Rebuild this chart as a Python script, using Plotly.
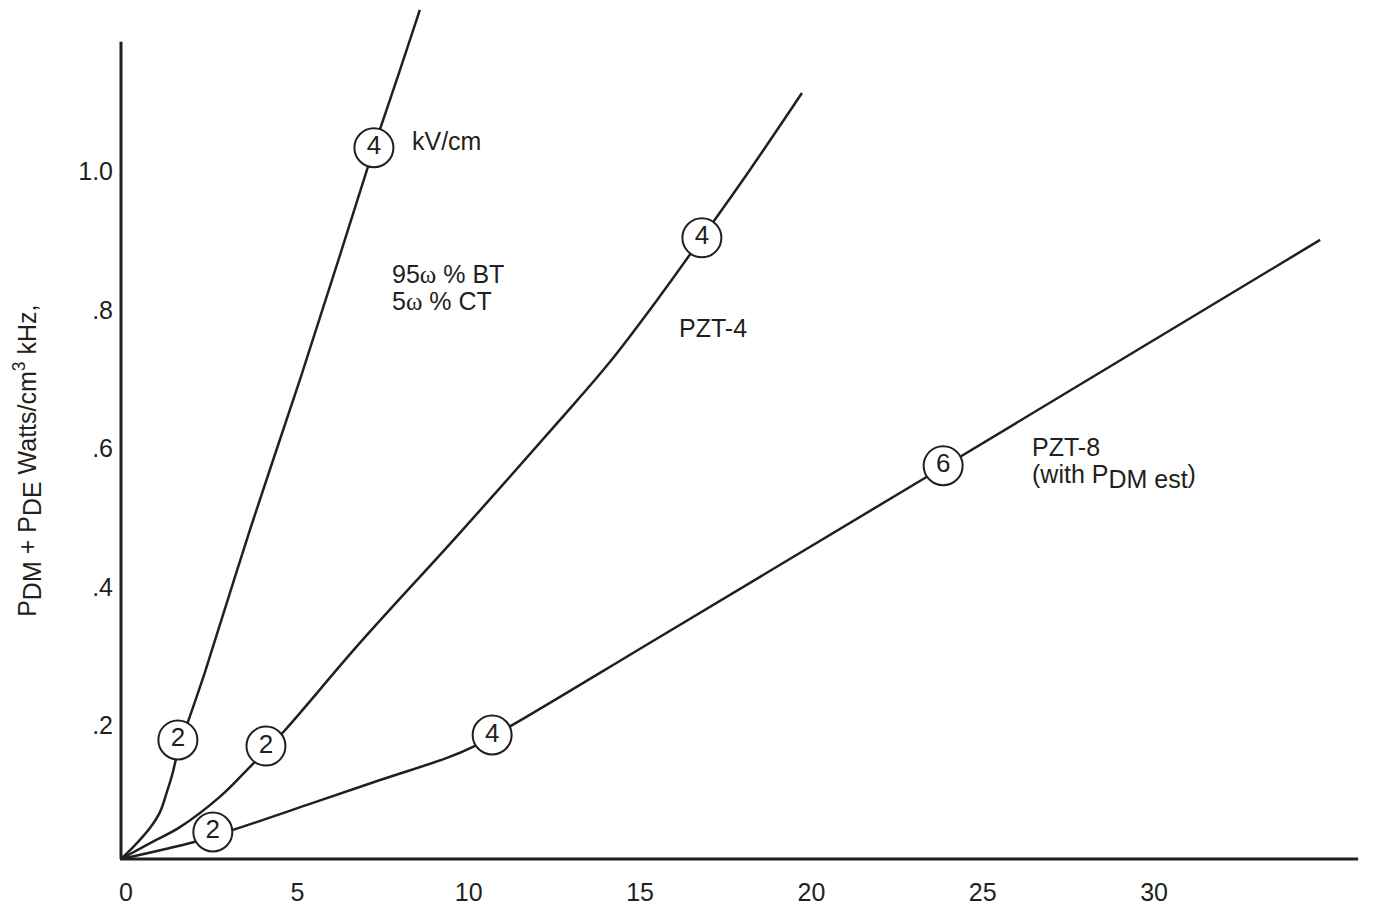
import plotly.graph_objects as go

# Curve traces (x along the horizontal axis, y = P_DM + P_DE in W/cm^3 kHz)
bt_x = [0, 0.41, 0.85, 1.14, 1.34, 1.49, 1.66, 1.87, 2.45, 3.76, 5.22, 6.39, 7.38, 8.14, 8.72]
bt_y = [0, 0.020, 0.045, 0.068, 0.097, 0.121, 0.155, 0.186, 0.270, 0.475, 0.692, 0.872, 1.027, 1.139, 1.226]

pzt4_x = [0, 0.85, 1.72, 2.89, 3.82, 4.73, 6.97, 9.89, 12.81, 14.27, 15.64, 16.95, 18.35, 19.87]
pzt4_y = [0, 0.023, 0.046, 0.090, 0.136, 0.183, 0.312, 0.471, 0.634, 0.718, 0.807, 0.897, 0.995, 1.106]

pzt8_x = [0, 2.16, 3.27, 5.60, 7.56, 9.51, 10.27, 11.44, 15.73, 23.99, 34.99]
pzt8_y = [0, 0.025, 0.042, 0.081, 0.114, 0.146, 0.162, 0.194, 0.321, 0.566, 0.894]

# Circled field-strength markers (kV/cm) along each curve
bt_mark_x = [1.66, 7.38]
bt_mark_y = [0.172, 1.027]
bt_mark_kv = ["2", "4"]

pzt4_mark_x = [4.23, 16.95]
pzt4_mark_y = [0.163, 0.897]
pzt4_mark_kv = ["2", "4"]

pzt8_mark_x = [2.68, 10.83, 23.99]
pzt8_mark_y = [0.039, 0.179, 0.568]
pzt8_mark_kv = ["2", "4", "6"]

# Axis ticks
x_ticks = [0, 5, 10, 15, 20, 25, 30]
y_ticks = [0.2, 0.4, 0.6, 0.8, 1.0]
y_tick_text = [".2", ".4", ".6", ".8", "1.0"]

FONT = "Liberation Sans, Arial, Helvetica, sans-serif"
INK = "#231f20"

fig = go.Figure()

for xs, ys in [(bt_x, bt_y), (pzt4_x, pzt4_y), (pzt8_x, pzt8_y)]:
    fig.add_trace(go.Scatter(
        x=xs, y=ys, mode="lines",
        line=dict(color=INK, width=2.5, shape="spline", smoothing=1.0),
        hoverinfo="skip", showlegend=False,
    ))

for mx, my, mt in [(bt_mark_x, bt_mark_y, bt_mark_kv),
                   (pzt4_mark_x, pzt4_mark_y, pzt4_mark_kv),
                   (pzt8_mark_x, pzt8_mark_y, pzt8_mark_kv)]:
    fig.add_trace(go.Scatter(
        x=mx, y=my, mode="markers+text", text=mt,
        textposition="middle center",
        textfont=dict(family=FONT, size=26, color=INK),
        marker=dict(size=39, color="white", line=dict(color=INK, width=2)),
        cliponaxis=False, hoverinfo="skip", showlegend=False,
    ))

# Axis lines
fig.add_shape(type="line", xref="x", yref="y", x0=0, x1=0, y0=0, y1=1.18,
              line=dict(color=INK, width=3))
fig.add_shape(type="line", xref="x", yref="y", x0=-0.03, x1=36.1, y0=0, y1=0,
              line=dict(color=INK, width=3))

omega = '<span style="font-family:Liberation Serif">ω</span>'


def sub(s):
    return '<sub><span style="font-size:25px">' + s + '</span></sub>'


notes = [
    ("kV/cm", 8.43, 1.037),
    ("95" + omega + " % BT", 7.85, 0.845),
    ("5" + omega + " % CT", 7.85, 0.806),
    ("PZT-4", 16.22, 0.767),
    ("PZT-8", 26.52, 0.595),
    ("(with P" + sub("DM est") + ")", 26.52, 0.553),
]
for txt, ax_, ay_ in notes:
    fig.add_annotation(x=ax_, y=ay_, xref="x", yref="y", text=txt, showarrow=False,
                       xanchor="left", yanchor="middle",
                       font=dict(family=FONT, size=25, color=INK))

fig.add_annotation(
    text="P" + sub("DM") + " + P" + sub("DE") + ' Watts/cm<sup>3</sup> kHz,',
    xref="paper", yref="y", x=-0.0722, y=0.575, textangle=-90,
    showarrow=False, xanchor="center", yanchor="middle",
    font=dict(family=FONT, size=25, color=INK),
)

fig.update_layout(
    width=1374, height=911,
    margin=dict(l=118, r=10, t=0, b=49),
    paper_bgcolor="white", plot_bgcolor="white",
    font=dict(family=FONT, size=25, color=INK),
    xaxis=dict(range=[-0.0875, 36.27], tickvals=x_ticks, showgrid=False,
               zeroline=False, showline=False, ticks="",
               ticklabelshift=5, ticklabelstandoff=13,
               tickfont=dict(family=FONT, size=25, color=INK)),
    yaxis=dict(range=[-0.00433, 1.2404], tickvals=y_ticks, ticktext=y_tick_text,
               showgrid=False, zeroline=False, showline=False, ticks="",
               ticklabelshift=5, ticklabelstandoff=4,
               tickfont=dict(family=FONT, size=25, color=INK)),
)

fig.write_html("out.html")
